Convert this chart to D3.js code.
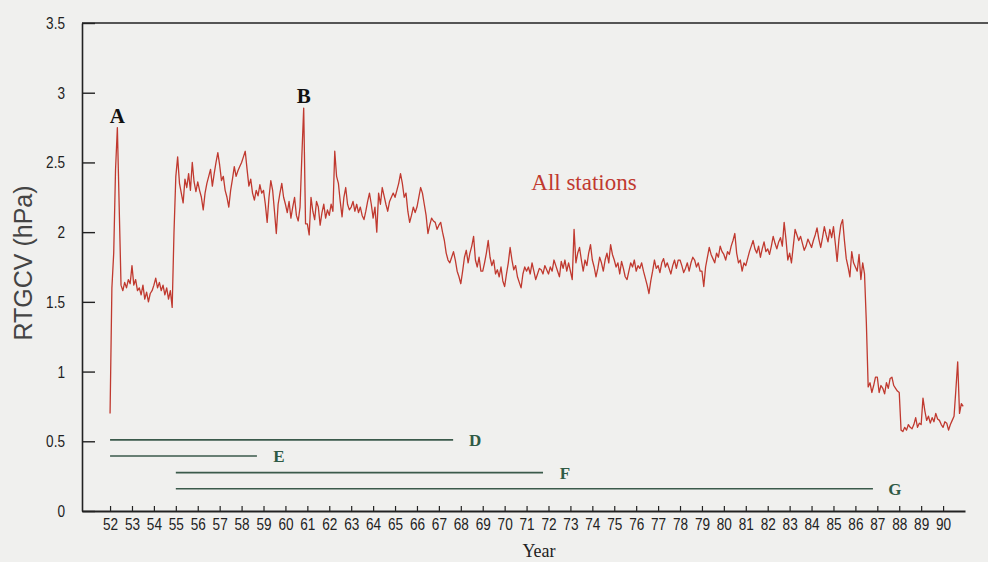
<!DOCTYPE html>
<html>
<head>
<meta charset="utf-8">
<script src="https://cdn.jsdelivr.net/npm/d3@7"></script>
<style>
  html, body { margin: 0; padding: 0; background: #f0f0ee; }
  svg { display: block; }
</style>
</head>
<body>
<svg id="chart" width="988" height="562"></svg>
<script>
// ---- Data ----
const firstYear = 52;          // series starts January 1952
const stepsPerYear = 12;       // monthly values
const rtgcv = [
  // 52
  0.70,1.60,1.85,2.45,2.75,2.18,1.62,1.58,1.64,1.60,1.66,1.63,
  // 53
  1.76,1.62,1.66,1.58,1.60,1.55,1.62,1.52,1.57,1.50,1.56,1.58,
  // 54
  1.62,1.67,1.60,1.64,1.58,1.62,1.55,1.60,1.52,1.58,1.46,2.00,
  // 55
  2.40,2.54,2.35,2.28,2.21,2.38,2.32,2.42,2.30,2.50,2.36,2.29,
  // 56
  2.36,2.30,2.25,2.16,2.28,2.35,2.40,2.45,2.33,2.42,2.50,2.57,
  // 57
  2.48,2.37,2.40,2.30,2.25,2.18,2.30,2.38,2.47,2.40,2.44,2.47,
  // 58
  2.50,2.54,2.58,2.45,2.33,2.38,2.28,2.23,2.30,2.26,2.34,2.28,
  // 59
  2.30,2.20,2.07,2.25,2.37,2.30,2.15,1.99,2.20,2.28,2.35,2.25,
  // 60
  2.20,2.14,2.22,2.10,2.18,2.25,2.12,2.08,2.18,2.55,2.89,2.06,
  // 61
  2.06,1.98,2.25,2.15,2.09,2.22,2.18,2.05,2.14,2.20,2.10,2.16,
  // 62
  2.12,2.20,2.15,2.58,2.40,2.35,2.22,2.11,2.25,2.32,2.20,2.16,
  // 63
  2.18,2.22,2.15,2.20,2.14,2.18,2.12,2.09,2.15,2.22,2.28,2.20,
  // 64
  2.10,2.18,2.00,2.28,2.20,2.32,2.26,2.20,2.15,2.22,2.25,2.28,
  // 65
  2.25,2.30,2.35,2.42,2.35,2.25,2.28,2.15,2.07,2.12,2.18,2.14,
  // 66
  2.18,2.25,2.32,2.28,2.20,2.12,1.99,2.05,2.10,2.08,2.07,2.02,
  // 67
  2.05,2.07,2.00,1.94,1.85,1.80,1.78,1.82,1.86,1.80,1.72,1.68,
  // 68
  1.63,1.72,1.82,1.87,1.78,1.85,1.90,1.97,1.80,1.75,1.82,1.72,
  // 69
  1.72,1.78,1.85,1.94,1.82,1.76,1.80,1.70,1.73,1.68,1.75,1.65,
  // 70
  1.61,1.70,1.78,1.89,1.80,1.73,1.76,1.68,1.64,1.60,1.70,1.75,
  // 71
  1.72,1.75,1.70,1.78,1.72,1.66,1.70,1.74,1.73,1.70,1.76,1.73,
  // 72
  1.70,1.75,1.72,1.80,1.76,1.72,1.68,1.79,1.74,1.80,1.72,1.78,
  // 73
  1.72,1.66,2.02,1.78,1.85,1.89,1.80,1.72,1.80,1.76,1.85,1.91,
  // 74
  1.80,1.75,1.68,1.74,1.82,1.78,1.72,1.80,1.85,1.78,1.91,1.84,
  // 75
  1.80,1.75,1.78,1.70,1.79,1.74,1.68,1.66,1.72,1.78,1.75,1.80,
  // 76
  1.72,1.76,1.74,1.78,1.72,1.67,1.62,1.56,1.65,1.72,1.80,1.74,
  // 77
  1.76,1.71,1.78,1.81,1.75,1.78,1.74,1.70,1.76,1.80,1.74,1.80,
  // 78
  1.80,1.76,1.71,1.74,1.78,1.72,1.78,1.82,1.80,1.75,1.78,1.72,
  // 79
  1.72,1.61,1.75,1.82,1.89,1.84,1.81,1.78,1.85,1.82,1.90,1.86,
  // 80
  1.84,1.80,1.86,1.84,1.90,1.94,1.99,1.85,1.78,1.80,1.72,1.78,
  // 81
  1.76,1.81,1.86,1.90,1.94,1.88,1.85,1.90,1.82,1.88,1.93,1.86,
  // 82
  1.88,1.84,1.90,1.97,1.92,1.88,1.93,1.96,1.90,2.07,1.95,1.80,
  // 83
  1.85,1.78,1.90,2.02,1.98,1.94,1.97,1.92,1.87,1.90,1.95,1.92,
  // 84
  1.89,1.94,1.98,2.03,1.95,1.89,1.96,2.04,1.98,1.93,2.02,1.96,
  // 85
  2.04,1.92,1.79,1.95,2.05,2.09,1.94,1.81,1.75,1.68,1.86,1.78,
  // 86
  1.75,1.72,1.84,1.66,1.78,1.70,1.35,0.89,0.92,0.85,0.90,0.96,
  // 87
  0.96,0.85,0.90,0.88,0.84,0.92,0.88,0.95,0.96,0.90,0.88,0.86,
  // 88
  0.85,0.58,0.57,0.60,0.58,0.62,0.60,0.59,0.62,0.67,0.60,0.63,
  // 89
  0.62,0.81,0.72,0.65,0.68,0.63,0.67,0.64,0.70,0.66,0.65,0.62,
  // 90
  0.60,0.64,0.63,0.58,0.62,0.65,0.68,0.87,1.07,0.70,0.77,0.75
];

const yTicks = [0, 0.5, 1, 1.5, 2, 2.5, 3, 3.5];
const yTickLabels = ["0", "0.5", "1", "1.5", "2", "2.5", "3", "3.5"];
const xTicks = d3.range(52, 91);
const xTickLabels = xTicks.map(String);

// station-group periods (horizontal bars)
const periodLabels = ["D", "E", "F", "G"];
const periodStart  = [52, 52, 55, 55];
const periodEnd    = [67.65, 58.7, 71.75, 86.8];
const periodLevel  = [0.51, 0.395, 0.275, 0.16];

// peak annotations
const peakLabels = ["A", "B"];
const peakYear   = [52 + 4/12, 60 + 10/12];
const peakValue  = [2.75, 2.89];

const seriesLabel = "All stations";
const yTitle = "RTGCV (hPa)";
const xTitle = "Year";

// ---- Drawing ----
const W = 988, H = 562;
const svg = d3.select("#chart");
svg.append("rect").attr("width", W).attr("height", H).attr("fill", "#f0f0ee");

const x = d3.scaleLinear().domain([50.72, 91.0]).range([82, 965]);
const y = d3.scaleLinear().domain([0, 3.5]).range([511, 23]);

const narrow = "'Liberation Sans Narrow', 'Liberation Sans', Arial, sans-serif";
const serif = "'Liberation Serif', 'Times New Roman', serif";
const squeeze = 0.8;

// top border
svg.append("line")
  .attr("x1", 82).attr("x2", W).attr("y1", y(3.5)).attr("y2", y(3.5))
  .attr("stroke", "#222").attr("stroke-width", 1.6);

// y axis (inner ticks)
const yAxis = d3.axisLeft(y)
  .tickValues(yTicks)
  .tickFormat((d, i) => yTickLabels[i])
  .tickSizeInner(-13).tickSizeOuter(0).tickPadding(17);
const gy = svg.append("g").attr("transform", "translate(82,0)").call(yAxis);
gy.select(".domain").attr("stroke", "#222").attr("stroke-width", 1.6);
gy.selectAll(".tick line").attr("stroke", "#222").attr("stroke-width", 1.4);
gy.selectAll(".tick text")
  .attr("font-family", narrow)
  .attr("font-size", 17).attr("fill", "#222")
  .attr("x", -17 / squeeze)
  .attr("transform", `scale(${squeeze},1)`);

// x axis (short inner ticks)
const xAxis = d3.axisBottom(x)
  .tickValues(xTicks)
  .tickFormat((d, i) => xTickLabels[i])
  .tickSizeInner(-5).tickSizeOuter(0).tickPadding(7);
const gx = svg.append("g").attr("transform", "translate(0,511)").call(xAxis);
gx.select(".domain").attr("stroke", "#222").attr("stroke-width", 2);
gx.selectAll(".tick line").attr("stroke", "#222").attr("stroke-width", 1.2);
gx.selectAll(".tick text")
  .attr("font-family", narrow)
  .attr("font-size", 17).attr("fill", "#222")
  .attr("transform", `scale(${squeeze},1)`);

// axis titles
svg.append("text")
  .attr("transform", "translate(32,263) rotate(-90)")
  .attr("text-anchor", "middle")
  .attr("font-family", "'Liberation Sans', Arial, sans-serif")
  .attr("font-size", 25).attr("fill", "#444")
  .text(yTitle);

svg.append("text")
  .attr("x", 539).attr("y", 557)
  .attr("text-anchor", "middle")
  .attr("font-family", serif)
  .attr("font-size", 18).attr("fill", "#222")
  .text(xTitle);

// period bars
const periods = periodLabels.map((l, i) => ({ label: l, s: periodStart[i], e: periodEnd[i], v: periodLevel[i] }));
svg.append("g").selectAll("line").data(periods).join("line")
  .attr("x1", d => x(d.s)).attr("x2", d => x(d.e))
  .attr("y1", d => y(d.v)).attr("y2", d => y(d.v))
  .attr("stroke", "#3b5a4b").attr("stroke-width", 1.6);
svg.append("g").selectAll("text").data(periods).join("text")
  .attr("x", d => x(d.e) + 22).attr("y", d => y(d.v) + 6)
  .attr("text-anchor", "middle")
  .attr("font-family", serif).attr("font-weight", "bold")
  .attr("font-size", 17).attr("fill", "#2f5a45")
  .text(d => d.label);

// series line
const pts = rtgcv.map((v, i) => ({ t: firstYear + i / stepsPerYear, v }));
svg.append("path")
  .datum(pts)
  .attr("fill", "none")
  .attr("stroke", "#c0392f")
  .attr("stroke-width", 1.3)
  .attr("stroke-linejoin", "round")
  .attr("d", d3.line().x(d => x(d.t)).y(d => y(d.v)));

// peak labels
const peaks = peakLabels.map((l, i) => ({ label: l, t: peakYear[i], v: peakValue[i] }));
svg.append("g").selectAll("text").data(peaks).join("text")
  .attr("x", d => x(d.t)).attr("y", d => y(d.v) - 5)
  .attr("text-anchor", "middle")
  .attr("font-family", serif).attr("font-weight", "bold")
  .attr("font-size", 21).attr("fill", "#111")
  .text(d => d.label);

// series label
svg.append("text")
  .attr("x", 584).attr("y", 190)
  .attr("text-anchor", "middle")
  .attr("font-family", serif)
  .attr("font-size", 23).attr("fill", "#c0392f")
  .text(seriesLabel);
</script>
</body>
</html>
